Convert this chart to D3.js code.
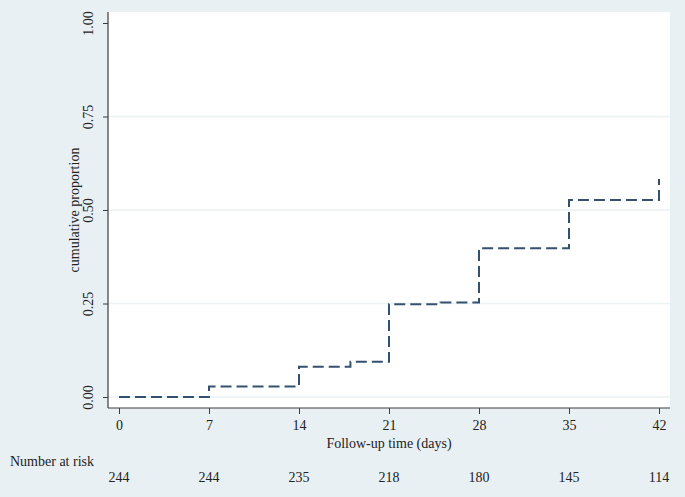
<!DOCTYPE html>
<html><head><meta charset="utf-8">
<script src="https://cdn.jsdelivr.net/npm/d3@7"></script>
<style>html,body{margin:0;padding:0;background:#e9f0f3;}svg{display:block;}</style>
</head><body>
<script>
// Step data: time (days) and cumulative proportion after each step
const stepTimes = [0, 7, 14, 18, 21, 25, 28, 35, 42];
const stepValues = [0.000, 0.028, 0.081, 0.094, 0.248, 0.253, 0.398, 0.527, 0.583];
const xTicks = [0, 7, 14, 21, 28, 35, 42];
const yTicks = [0, 0.25, 0.5, 0.75, 1.0];
const gridTicks = [0, 0.25, 0.5, 0.75];
const atRisk = [244, 244, 235, 218, 180, 145, 114];

const W = 685, H = 497;
const svg = d3.select("body").append("svg").attr("width", W).attr("height", H);
svg.append("rect").attr("width", W).attr("height", H).attr("fill", "#e9f0f3");

const plot = {left: 108, right: 670, top: 12, bottom: 408};
const x = d3.scaleLinear().domain([0, 42]).range([119, 659]);
const y = d3.scaleLinear().domain([0, 1]).range([397, 23]);

svg.append("rect").attr("x", plot.left).attr("y", plot.top)
  .attr("width", plot.right - plot.left).attr("height", plot.bottom - plot.top)
  .attr("fill", "#ffffff");

// gridlines
svg.append("g").selectAll("line").data(gridTicks).join("line")
  .attr("x1", plot.left).attr("x2", plot.right)
  .attr("y1", d => y(d)).attr("y2", d => y(d))
  .attr("stroke", "#eaf2f3").attr("stroke-width", 1.5);

const font = "'Liberation Serif','Times New Roman',serif";

// Y axis
const yAxis = d3.axisLeft(y).tickValues(yTicks).tickFormat(d3.format(".2f")).tickSize(5).tickPadding(0);
const gy = svg.append("g").attr("transform", `translate(${plot.left},0)`).call(yAxis);
gy.select(".domain").remove();
gy.selectAll(".tick line").attr("stroke", "#3c3c3c");
gy.selectAll(".tick text").attr("font-family", font).attr("font-size", 14).attr("fill", "#222")
  .attr("text-anchor", "middle").attr("dy", null).attr("x", null)
  .attr("transform", "translate(-20,0) rotate(-90)").attr("dy", "0.35em");
svg.append("line").attr("x1", plot.left).attr("x2", plot.left).attr("y1", plot.top).attr("y2", plot.bottom)
  .attr("stroke", "#3c3c3c").attr("stroke-width", 1.2);

// X axis
const xAxis = d3.axisBottom(x).tickValues(xTicks).tickFormat(d3.format("d")).tickSize(6).tickPadding(6);
const gx = svg.append("g").attr("transform", `translate(0,${plot.bottom})`).call(xAxis);
gx.select(".domain").remove();
gx.selectAll(".tick line").attr("stroke", "#3c3c3c");
gx.selectAll(".tick text").attr("font-family", font).attr("font-size", 14).attr("fill", "#222");
svg.append("line").attr("x1", plot.left).attr("x2", plot.right).attr("y1", plot.bottom).attr("y2", plot.bottom)
  .attr("stroke", "#3c3c3c").attr("stroke-width", 1.2);

// titles
svg.append("text").attr("x", 389).attr("y", 448).attr("text-anchor", "middle")
  .attr("font-family", font).attr("font-size", 14).attr("fill", "#222").text("Follow-up time (days)");
svg.append("text").attr("transform", "translate(79,210) rotate(-90)").attr("text-anchor", "middle")
  .attr("font-family", font).attr("font-size", 14).attr("fill", "#222").text("cumulative proportion");

// number at risk
svg.append("text").attr("x", 10).attr("y", 466)
  .attr("font-family", font).attr("font-size", 14).attr("fill", "#222").text("Number at risk");
svg.append("g").selectAll("text").data(atRisk).join("text")
  .attr("x", (d, i) => x(xTicks[i])).attr("y", 482).attr("text-anchor", "middle")
  .attr("font-family", font).attr("font-size", 14).attr("fill", "#222").text(d => d);

// step line
const pts = stepTimes.map((t, i) => [t, stepValues[i]]);
const line = d3.line().x(d => x(d[0])).y(d => y(d[1])).curve(d3.curveStepAfter);
svg.append("path").datum(pts).attr("d", line)
  .attr("fill", "none").attr("stroke", "#34506f").attr("stroke-width", 2)
  .attr("stroke-dasharray", "11,5");
</script>
</body></html>
